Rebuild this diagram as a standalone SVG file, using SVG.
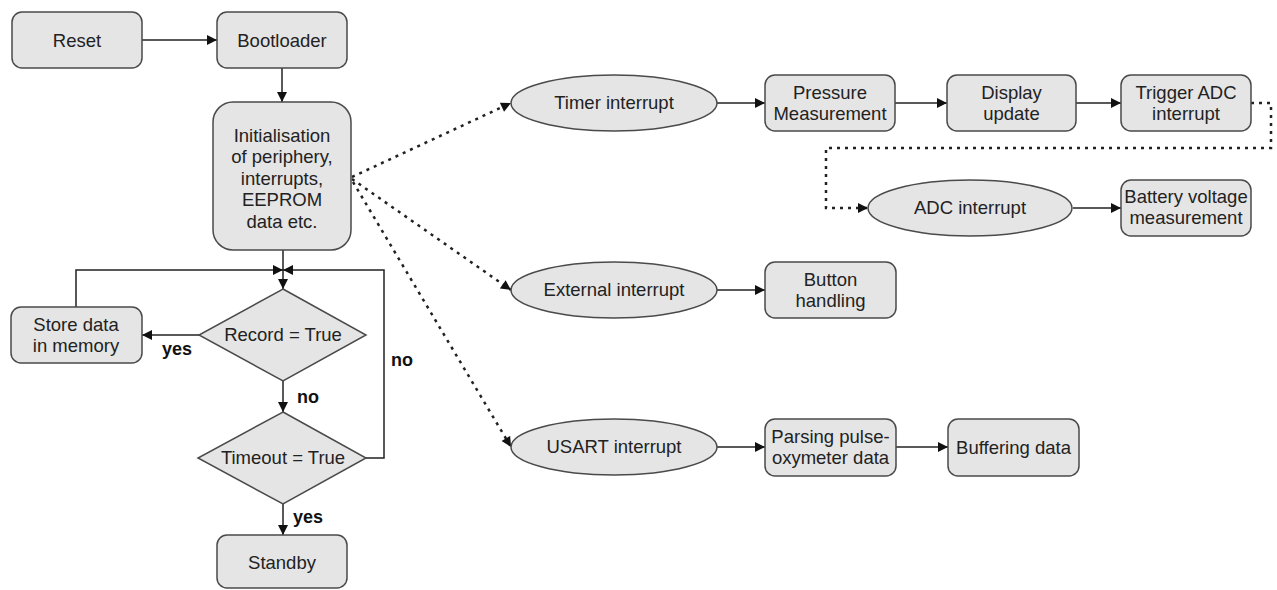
<svg xmlns="http://www.w3.org/2000/svg" width="1277" height="590" viewBox="0 0 1277 590">
<defs>
<marker id="ah" viewBox="0 0 10 10" refX="10" refY="5" markerWidth="11" markerHeight="10" markerUnits="userSpaceOnUse" orient="auto">
<path d="M0,0 L10,5 L0,10 Z" fill="#111"/>
</marker>
<style>
.box{fill:#e5e5e5;stroke:#4a4a4a;stroke-width:1.5}
.t{font-family:"Liberation Sans",Arial,sans-serif;font-size:18.5px;fill:#222;text-anchor:middle}
.b{font-family:"Liberation Sans",Arial,sans-serif;font-size:18px;font-weight:bold;fill:#111}
.ln{fill:none;stroke:#222;stroke-width:1.5}
.dt{fill:none;stroke:#222;stroke-width:2.5;stroke-dasharray:3 5}
</style>
</defs>
<rect width="1277" height="590" fill="#fff"/>

<g id="connectors">
<path class="ln" d="M142,40 H217" marker-end="url(#ah)"/>
<path class="ln" d="M282,68 V102" marker-end="url(#ah)"/>
<path class="ln" d="M283,250 V289" marker-end="url(#ah)"/>
<path class="ln" d="M76,307 V270 H283" marker-end="url(#ah)"/>
<path class="ln" d="M366,458 H384 V270 H283" marker-end="url(#ah)"/>
<path class="ln" d="M199,335 H142" marker-end="url(#ah)"/>
<path class="ln" d="M283,381 V412" marker-end="url(#ah)"/>
<path class="ln" d="M283,504 V535" marker-end="url(#ah)"/>
<path class="dt" d="M352,177 L511,103" marker-end="url(#ah)"/>
<path class="dt" d="M352,179 L511,290" marker-end="url(#ah)"/>
<path class="dt" d="M353,182 L511,447" marker-end="url(#ah)"/>
<path class="ln" d="M717,103 H765" marker-end="url(#ah)"/>
<path class="ln" d="M895,103 H947" marker-end="url(#ah)"/>
<path class="ln" d="M1076,103 H1121" marker-end="url(#ah)"/>
<path class="dt" d="M1251,103 H1271 V148 H826 V208 H868" marker-end="url(#ah)"/>
<path class="ln" d="M1073,208 H1121" marker-end="url(#ah)"/>
<path class="ln" d="M717,290 H765" marker-end="url(#ah)"/>
<path class="ln" d="M717,447 H765" marker-end="url(#ah)"/>
<path class="ln" d="M896,447 H948" marker-end="url(#ah)"/>
<text class="b" x="162" y="355">yes</text>
<text class="b" x="391" y="366">no</text>
<text class="b" x="297" y="403">no</text>
<text class="b" x="293" y="523">yes</text>
</g>

<g id="reset"><rect class="box" x="12" y="12" width="130" height="56" rx="10"/><text class="t" x="77" y="46.5">Reset</text></g>
<g id="bootloader"><rect class="box" x="217" y="12" width="130" height="56" rx="10"/><text class="t" x="282" y="46.5">Bootloader</text></g>
<g id="init"><rect class="box" x="213" y="102" width="138" height="148" rx="20"/>
<text class="t" x="282" y="141.5">Initialisation</text>
<text class="t" x="282" y="163">of periphery,</text>
<text class="t" x="282" y="184.5">interrupts,</text>
<text class="t" x="282" y="206">EEPROM</text>
<text class="t" x="282" y="227.5">data etc.</text></g>
<g id="record"><polygon class="box" points="283,289 366,335 283,381 199,335"/><text class="t" x="283" y="341">Record = True</text></g>
<g id="store"><rect class="box" x="11" y="307" width="131" height="56" rx="10"/>
<text class="t" x="76" y="331">Store data</text><text class="t" x="76" y="352">in memory</text></g>
<g id="timeout"><polygon class="box" points="283,412 366,458 283,504 198,458"/><text class="t" x="283" y="464">Timeout = True</text></g>
<g id="standby"><rect class="box" x="217" y="535" width="130" height="53" rx="10"/><text class="t" x="282" y="569">Standby</text></g>

<g id="timer"><ellipse class="box" cx="614" cy="103" rx="103" ry="28"/><text class="t" x="614" y="109">Timer interrupt</text></g>
<g id="pressure"><rect class="box" x="765" y="75" width="130" height="56" rx="10"/>
<text class="t" x="830" y="99">Pressure</text><text class="t" x="830" y="120">Measurement</text></g>
<g id="display"><rect class="box" x="947" y="75" width="129" height="56" rx="10"/>
<text class="t" x="1011.5" y="99">Display</text><text class="t" x="1011.5" y="120">update</text></g>
<g id="trigger"><rect class="box" x="1121" y="75" width="130" height="56" rx="10"/>
<text class="t" x="1186" y="99">Trigger ADC</text><text class="t" x="1186" y="120">interrupt</text></g>
<g id="adc"><ellipse class="box" cx="970" cy="208" rx="102" ry="28"/><text class="t" x="970" y="214">ADC interrupt</text></g>
<g id="battery"><rect class="box" x="1121" y="180" width="130" height="56" rx="10"/>
<text class="t" x="1186" y="203">Battery voltage</text><text class="t" x="1186" y="224">measurement</text></g>
<g id="external"><ellipse class="box" cx="614" cy="290" rx="103" ry="28"/><text class="t" x="614" y="296">External interrupt</text></g>
<g id="button"><rect class="box" x="765" y="262" width="131" height="56" rx="10"/>
<text class="t" x="830.5" y="286">Button</text><text class="t" x="830.5" y="307">handling</text></g>
<g id="usart"><ellipse class="box" cx="614" cy="447" rx="103" ry="28"/><text class="t" x="614" y="453">USART interrupt</text></g>
<g id="parsing"><rect class="box" x="765" y="419" width="131" height="57" rx="10"/>
<text class="t" x="830.5" y="443">Parsing pulse-</text><text class="t" x="830.5" y="464">oxymeter data</text></g>
<g id="buffering"><rect class="box" x="948" y="419" width="131" height="57" rx="10"/>
<text class="t" x="1013.5" y="453.5">Buffering data</text></g>
</svg>
